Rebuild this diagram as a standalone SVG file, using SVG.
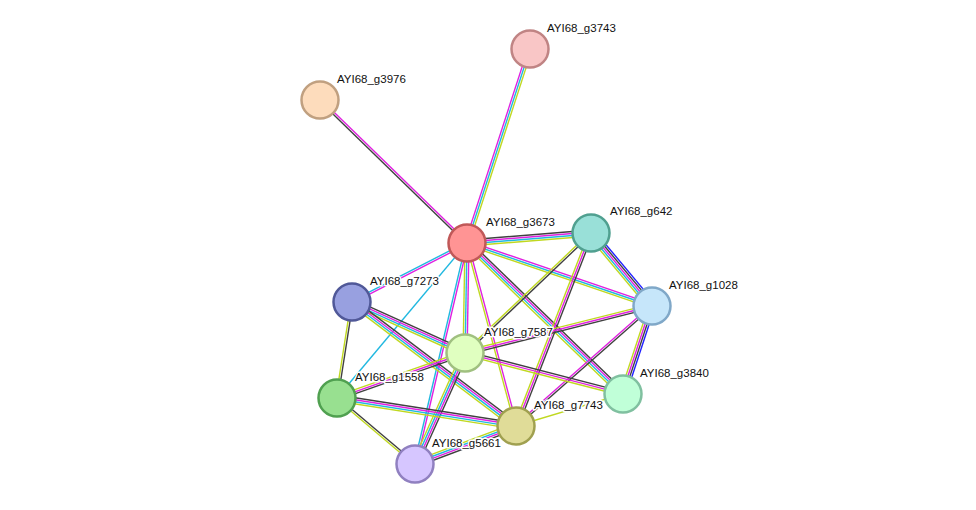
<svg xmlns="http://www.w3.org/2000/svg" xmlns:xlink="http://www.w3.org/1999/xlink" width="976" height="510" viewBox="0 0 976 510">
<style>
line{vector-effect:non-scaling-stroke;stroke-width:1.4;fill:none}
.k{stroke:#404040}.b{stroke:#2020ff}.m{stroke:#e020e0}.c{stroke:#20b8e0}.y{stroke:#c0d820}
.n{stroke-width:2.5}
text{font-family:"Liberation Sans",Arial,sans-serif;font-size:11.5px;fill:#111;stroke:#fff;stroke-width:3;paint-order:stroke;stroke-linejoin:round}
</style>
<defs>
<g id="kmcy"><line class="k" x1="0" y1="-3" x2="1" y2="-3"/><line class="m" x1="0" y1="-1" x2="1" y2="-1"/><line class="c" x1="0" y1="1" x2="1" y2="1"/><line class="y" x1="0" y1="3" x2="1" y2="3"/></g>
<g id="mcy"><line class="m" x1="0" y1="-2" x2="1" y2="-2"/><line class="c" x1="0" y1="0" x2="1" y2="0"/><line class="y" x1="0" y1="2" x2="1" y2="2"/></g>
<g id="km"><line class="k" x1="0" y1="-1" x2="1" y2="-1"/><line class="m" x1="0" y1="1" x2="1" y2="1"/></g>
<g id="mc"><line class="m" x1="0" y1="-1" x2="1" y2="-1"/><line class="c" x1="0" y1="1" x2="1" y2="1"/></g>
<g id="my"><line class="m" x1="0" y1="-1" x2="1" y2="-1"/><line class="y" x1="0" y1="1" x2="1" y2="1"/></g>
<g id="ky"><line class="k" x1="0" y1="-1" x2="1" y2="-1"/><line class="y" x1="0" y1="1" x2="1" y2="1"/></g>
<g id="c1"><line class="c" x1="0" y1="0" x2="1" y2="0"/></g>
<g id="y1"><line class="y" x1="0" y1="0" x2="1" y2="0"/></g>
<g id="kmy"><line class="k" x1="0" y1="-2" x2="1" y2="-2"/><line class="m" x1="0" y1="0" x2="1" y2="0"/><line class="y" x1="0" y1="2" x2="1" y2="2"/></g>
<g id="bkmcy"><line class="b" x1="0" y1="-4" x2="1" y2="-4"/><line class="k" x1="0" y1="-2" x2="1" y2="-2"/><line class="m" x1="0" y1="0" x2="1" y2="0"/><line class="c" x1="0" y1="2" x2="1" y2="2"/><line class="y" x1="0" y1="4" x2="1" y2="4"/></g>
<g id="bkmy"><line class="b" x1="0" y1="-3" x2="1" y2="-3"/><line class="k" x1="0" y1="-1" x2="1" y2="-1"/><line class="m" x1="0" y1="1" x2="1" y2="1"/><line class="y" x1="0" y1="3" x2="1" y2="3"/></g>
</defs>
<g id="edges">
<use xlink:href="#mcy" transform="translate(467 243) rotate(-72) scale(204 1)"/>
<use xlink:href="#km" transform="translate(467 243) rotate(-135.8) scale(205 1)"/>
<use xlink:href="#kmcy" transform="translate(467 243) rotate(-4.6) scale(124.4 1)"/>
<use xlink:href="#mcy" transform="translate(467 243) rotate(18.8) scale(195.4 1)"/>
<use xlink:href="#mc" transform="translate(467 243) rotate(152.8) scale(129.3 1)"/>
<use xlink:href="#mcy" transform="translate(467 243) rotate(91) scale(110 1)"/>
<use xlink:href="#c1" transform="translate(467 243) rotate(130) scale(202.3 1)"/>
<use xlink:href="#kmcy" transform="translate(467 243) rotate(44.1) scale(217.1 1)"/>
<use xlink:href="#my" transform="translate(467 243) rotate(75) scale(189.4 1)"/>
<use xlink:href="#mc" transform="translate(467 243) rotate(103.2) scale(227 1)"/>
<use xlink:href="#bkmcy" transform="translate(591 233) rotate(50.1) scale(95.1 1)"/>
<use xlink:href="#ky" transform="translate(591 233) rotate(136.4) scale(174 1)"/>
<use xlink:href="#kmy" transform="translate(591 233) rotate(111.2) scale(207 1)"/>
<use xlink:href="#kmy" transform="translate(652 306) rotate(165.9) scale(192.8 1)"/>
<use xlink:href="#bkmy" transform="translate(652 306) rotate(108.2) scale(92.7 1)"/>
<use xlink:href="#km" transform="translate(652 306) rotate(138.6) scale(181.4 1)"/>
<use xlink:href="#kmcy" transform="translate(352 302) rotate(24.3) scale(124 1)"/>
<use xlink:href="#kmcy" transform="translate(352 302) rotate(37.1) scale(205.6 1)"/>
<use xlink:href="#ky" transform="translate(352 302) rotate(98.9) scale(97.2 1)"/>
<use xlink:href="#kmy" transform="translate(465 353) rotate(14.5) scale(163.2 1)"/>
<use xlink:href="#kmy" transform="translate(465 353) rotate(160.6) scale(135.7 1)"/>
<use xlink:href="#kmcy" transform="translate(465 353) rotate(114.2) scale(121.7 1)"/>
<use xlink:href="#kmcy" transform="translate(337 398) rotate(8.9) scale(181.2 1)"/>
<use xlink:href="#ky" transform="translate(337 398) rotate(40.2) scale(102.2 1)"/>
<use xlink:href="#kmcy" transform="translate(516 426) rotate(159.4) scale(107.9 1)"/>
<use xlink:href="#y1" transform="translate(516 426) rotate(-16.7) scale(111.7 1)"/>
</g>
<g id="g3743"><circle class="n" cx="530" cy="49" r="18.5" fill="#f9c6c6" stroke="#c08484"/><text x="547" y="32">AYI68_g3743</text></g>
<g id="g3976"><circle class="n" cx="320" cy="100" r="18.5" fill="#fddcbc" stroke="#c0a080"/><text x="337" y="83">AYI68_g3976</text></g>
<g id="g3673"><circle class="n" cx="467" cy="243" r="18.5" fill="#ff9494" stroke="#c05858"/><text x="486" y="226">AYI68_g3673</text></g>
<g id="g642"><circle class="n" cx="591" cy="233" r="18.5" fill="#99e0d8" stroke="#50a090"/><text x="610" y="215">AYI68_g642</text></g>
<g id="g1028"><circle class="n" cx="652" cy="306" r="18.5" fill="#c6e6fa" stroke="#80a8c8"/><text x="669" y="289">AYI68_g1028</text></g>
<g id="g7273"><circle class="n" cx="352" cy="302" r="18.5" fill="#98a0e0" stroke="#505898"/><text x="370" y="285">AYI68_g7273</text></g>
<g id="g7587"><circle class="n" cx="465" cy="353" r="18.5" fill="#e0ffc0" stroke="#a0c080"/><text x="484" y="336">AYI68_g7587</text></g>
<g id="g1558"><circle class="n" cx="337" cy="398" r="18.5" fill="#98e090" stroke="#50a050"/><text x="355" y="381">AYI68_g1558</text></g>
<g id="g3840"><circle class="n" cx="623" cy="394" r="18.5" fill="#c0ffd8" stroke="#80c0a0"/><text x="640" y="377">AYI68_g3840</text></g>
<g id="g7743"><circle class="n" cx="516" cy="426" r="18.5" fill="#e0dc98" stroke="#a0a050"/><text x="534" y="409">AYI68_g7743</text></g>
<g id="g5661"><circle class="n" cx="415" cy="464" r="18.5" fill="#d6c6ff" stroke="#9080c0"/><text x="432" y="447">AYI68_g5661</text></g>
</svg>
